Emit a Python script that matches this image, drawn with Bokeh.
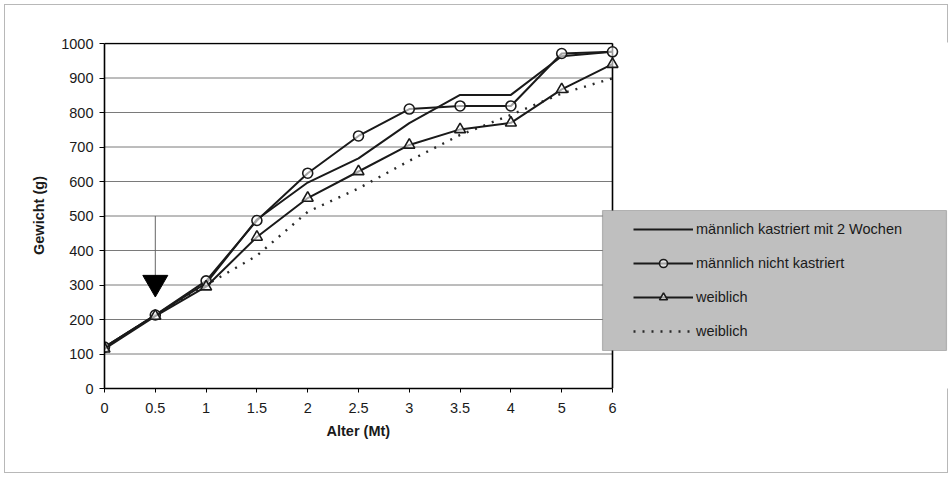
from bokeh.plotting import figure
from bokeh.models import Range1d, FixedTicker, Legend, LegendItem, BoxAnnotation, Title
from bokeh.embed import file_html
from bokeh.resources import INLINE

# ---- data ----
x_labels = ["0", "0.5", "1", "1.5", "2", "2.5", "3", "3.5", "4", "5", "6"]
kastriert = [120, 213, 305, 490, 597, 667, 769, 851, 851, 963, 976]
nicht_kastriert = [120, 213, 312, 487, 624, 732, 810, 819, 819, 971, 976]
weiblich = [115, 210, 295, 439, 552, 629, 706, 751, 770, 867, 940]
weiblich_trend = [118, 212, 300, 385, 512, 580, 660, 735, 793, 855, 899]
y_ticks = [0, 100, 200, 300, 400, 500, 600, 700, 800, 900, 1000]
legend_labels = ["männlich kastriert mit 2 Wochen", "männlich nicht kastriert",
                 "weiblich", "weiblich"]
x_title = "Alter (Mt)"
y_title = "Gewicht (g)"
arrow_x_label = "0.5"
arrow_from = 500
arrow_to = 307

FONT = "Liberation Sans"
INK = "#1a1a1a"

xs = list(range(len(x_labels)))
n_last = len(x_labels) - 1
y_max = y_ticks[-1]

# layout (pixels): plotted area spans x 104..612, y 43..388; the frame is
# extended to the right so the legend panel can sit over the chart's edge
W, H = 952, 477
PL, PR, PT, PB = 104, 612, 43, 388
FR = 950
x_end = n_last * (FR - PL) / (PR - PL)
y_end = y_max * (PB - 42) / (PB - PT)

p = figure(width=W, height=H, output_backend="svg", toolbar_location=None,
           x_range=Range1d(0, x_end), y_range=Range1d(0, y_end),
           min_border_left=PL, min_border_right=W - FR, min_border_top=42,
           min_border_bottom=H - PB)
p.styles = {"outline": "1px solid #b8b8b8", "outline-offset": "-5px"}
p.background_fill_color = "white"
p.border_fill_color = "white"
p.border_fill_alpha = 0
p.outline_line_color = None

p.xgrid.visible = False
p.ygrid.visible = False

# horizontal grid lines and chart border, limited to the data columns
grid_vals = y_ticks[1:]
p.segment(x0=[0] * len(grid_vals), y0=grid_vals, x1=[n_last] * len(grid_vals),
          y1=grid_vals, line_color="#7a7a7a", line_width=1)
p.segment(x0=[0], y0=[y_max], x1=[n_last], y1=[y_max], line_color="black",
          line_width=1.6)
p.segment(x0=[n_last], y0=[0], x1=[n_last], y1=[y_max], line_color="black",
          line_width=1.6)

p.yaxis.ticker = FixedTicker(ticks=y_ticks)
p.yaxis.bounds = (0, y_max)
p.xaxis.ticker = FixedTicker(ticks=xs)
p.xaxis.bounds = (0, n_last)
p.xaxis.major_label_overrides = {i: lab for i, lab in enumerate(x_labels)}

for ax in (p.xaxis[0], p.yaxis[0]):
    ax.axis_line_color = "black"
    ax.axis_line_width = 1.6
    ax.major_tick_line_color = "black"
    ax.major_tick_in = 0
    ax.minor_tick_line_color = None
    ax.major_label_text_font = FONT
    ax.major_label_text_font_size = "14.5px"
    ax.major_label_text_color = INK
    ax.axis_label_text_font = FONT
    ax.axis_label_text_font_size = "14.5px"
    ax.axis_label_text_font_style = "bold"
    ax.axis_label_text_color = INK

p.yaxis.major_tick_out = 5
p.yaxis.major_label_standoff = 6
p.yaxis.axis_label = y_title
p.yaxis.axis_label_standoff = 11
p.xaxis.major_tick_out = 4
p.xaxis.major_label_standoff = 10

# x-axis title centred under the data columns (not the extended frame)
xt = Title(text=x_title, align="left", offset=(PL + PR) / 2 - PL - 32,
           text_font=FONT, text_font_size="14.5px", text_font_style="bold",
           text_color=INK, vertical_align="bottom", text_line_height=1.6)
p.add_layout(xt, "below")

# ---- series ----
r4 = p.line(xs, weiblich_trend, line_color="#2a2a2a", line_width=2.4,
            line_dash="2 7")
r1 = p.line(xs, kastriert, line_color=INK, line_width=2)
r2 = p.line(xs, nicht_kastriert, line_color=INK, line_width=2)
s2 = p.scatter(xs, nicht_kastriert, marker="circle", size=10,
               fill_color="white", fill_alpha=0.6, line_color=INK, line_width=1.6)
r3 = p.line(xs, weiblich, line_color=INK, line_width=2)
s3 = p.scatter(xs, weiblich, marker="triangle", size=11,
               fill_color="white", fill_alpha=0.6, line_color=INK, line_width=1.6)

# ---- arrow marker at 0.5 ----
ax_i = x_labels.index(arrow_x_label)
p.segment(x0=[ax_i], y0=[arrow_from], x1=[ax_i], y1=[arrow_to],
          line_color="#666666", line_width=1)
p.scatter([ax_i], [arrow_to], marker="inverted_triangle", size=25,
          fill_color="black", line_color="black")

# ---- legend box (grey panel) ----
box = BoxAnnotation(left=602 - PL, right=946 - PL, bottom=PB - 350, top=PB - 210,
                    left_units="screen", right_units="screen",
                    bottom_units="screen", top_units="screen",
                    fill_color="#bfbfbf", fill_alpha=1.0,
                    line_color="#4a4a4a", line_width=1.2, level="annotation")
p.add_layout(box)

legend = Legend(items=[
    LegendItem(label=legend_labels[0], renderers=[r1]),
    LegendItem(label=legend_labels[1], renderers=[r2, s2]),
    LegendItem(label=legend_labels[2], renderers=[r3, s3]),
    LegendItem(label=legend_labels[3], renderers=[r4]),
], location=(624 - PL, PB - 350))
legend.glyph_width = 60
legend.glyph_height = 20
legend.label_height = 20
legend.spacing = 14
legend.padding = 9
legend.margin = 0
legend.label_standoff = 3
legend.background_fill_alpha = 0
legend.border_line_alpha = 0
legend.label_text_font = FONT
legend.label_text_font_size = "14.5px"
legend.label_text_color = INK
p.add_layout(legend, "center")

open("out.html", "w").write(file_html(p, INLINE))
